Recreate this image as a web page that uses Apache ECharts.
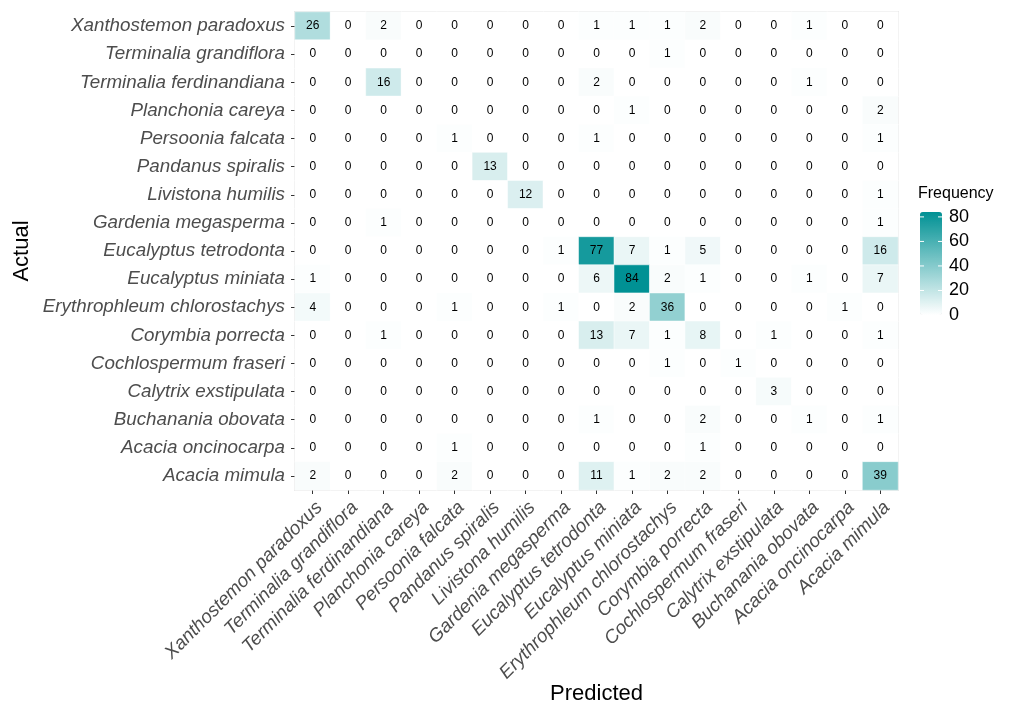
<!DOCTYPE html>
<html>
<head>
<meta charset="utf-8">
<script src="https://cdn.jsdelivr.net/npm/echarts@6/dist/echarts.min.js"></script>
<style>
  html, body { margin: 0; padding: 0; background: #fff; }
  #main { width: 1012px; height: 704px; }
</style>
</head>
<body>
<div id="main"></div>
<script>
// species, same order on both axes (top-to-bottom / left-to-right)
var species = [
  'Xanthostemon paradoxus', 'Terminalia grandiflora', 'Terminalia ferdinandiana',
  'Planchonia careya', 'Persoonia falcata', 'Pandanus spiralis', 'Livistona humilis',
  'Gardenia megasperma', 'Eucalyptus tetrodonta', 'Eucalyptus miniata',
  'Erythrophleum chlorostachys', 'Corymbia porrecta', 'Cochlospermum fraseri',
  'Calytrix exstipulata', 'Buchanania obovata', 'Acacia oncinocarpa', 'Acacia mimula'
];

// confusion counts: one row per actual class, columns = predicted class
var counts = [
  [26, 0, 2, 0, 0, 0, 0, 0, 1, 1, 1, 2, 0, 0, 1, 0, 0],
  [0, 0, 0, 0, 0, 0, 0, 0, 0, 0, 1, 0, 0, 0, 0, 0, 0],
  [0, 0, 16, 0, 0, 0, 0, 0, 2, 0, 0, 0, 0, 0, 1, 0, 0],
  [0, 0, 0, 0, 0, 0, 0, 0, 0, 1, 0, 0, 0, 0, 0, 0, 2],
  [0, 0, 0, 0, 1, 0, 0, 0, 1, 0, 0, 0, 0, 0, 0, 0, 1],
  [0, 0, 0, 0, 0, 13, 0, 0, 0, 0, 0, 0, 0, 0, 0, 0, 0],
  [0, 0, 0, 0, 0, 0, 12, 0, 0, 0, 0, 0, 0, 0, 0, 0, 1],
  [0, 0, 1, 0, 0, 0, 0, 0, 0, 0, 0, 0, 0, 0, 0, 0, 1],
  [0, 0, 0, 0, 0, 0, 0, 1, 77, 7, 1, 5, 0, 0, 0, 0, 16],
  [1, 0, 0, 0, 0, 0, 0, 0, 6, 84, 2, 1, 0, 0, 1, 0, 7],
  [4, 0, 0, 0, 1, 0, 0, 1, 0, 2, 36, 0, 0, 0, 0, 1, 0],
  [0, 0, 1, 0, 0, 0, 0, 0, 13, 7, 1, 8, 0, 1, 0, 0, 1],
  [0, 0, 0, 0, 0, 0, 0, 0, 0, 0, 1, 0, 1, 0, 0, 0, 0],
  [0, 0, 0, 0, 0, 0, 0, 0, 0, 0, 0, 0, 0, 3, 0, 0, 0],
  [0, 0, 0, 0, 0, 0, 0, 0, 1, 0, 0, 2, 0, 0, 1, 0, 1],
  [0, 0, 0, 0, 1, 0, 0, 0, 0, 0, 0, 1, 0, 0, 0, 0, 0],
  [2, 0, 0, 0, 2, 0, 0, 0, 11, 1, 2, 2, 0, 0, 0, 0, 39]
];

var legendTicks = [0, 20, 40, 60, 80];

var heatData = [];
counts.forEach(function (row, i) {
  row.forEach(function (v, j) {
    heatData.push([j, i, v]);
  });
});
var maxVal = Math.max.apply(null, heatData.map(function (d) { return d[2]; }));

// colour bar geometry
var barLeft = 920, barTop = 212, barW = 22, barH = 103;
var legendGraphics = [{
  type: 'text', left: 918, top: 186,
  style: { text: 'Frequency', fontSize: 16, fill: '#000', fontFamily: 'Liberation Sans' }
}];
legendTicks.forEach(function (t) {
  var y = barTop + barH * (1 - t / maxVal);
  legendGraphics.push({
    type: 'text', x: 949, y: y,
    style: { text: String(t), fontSize: 18, fill: '#000', fontFamily: 'Liberation Sans',
             textVerticalAlign: 'middle', verticalAlign: 'middle' },
    z: 100
  });
  legendGraphics.push({
    type: 'line', shape: { x1: barLeft, y1: y, x2: barLeft + 4, y2: y },
    style: { stroke: '#fff', lineWidth: 1 }, z: 100
  });
  legendGraphics.push({
    type: 'line', shape: { x1: barLeft + barW - 4, y1: y, x2: barLeft + barW, y2: y },
    style: { stroke: '#fff', lineWidth: 1 }, z: 100
  });
});

var myChart = echarts.init(document.getElementById('main'));

var option = {
  animation: false,
  backgroundColor: '#fff',
  textStyle: { fontFamily: 'Liberation Sans' },
  grid: {
    left: 295, right: 114, top: 12, bottom: 214,
    show: true, borderColor: '#e6e6e6', borderWidth: 2,
    outerBoundsMode: 'none'
  },
  xAxis: {
    type: 'category',
    data: species,
    name: 'Predicted',
    nameLocation: 'middle',
    nameGap: 193,
    nameMoveOverlap: false,
    nameTextStyle: { fontSize: 22, color: '#000' },
    axisLine: { show: false },
    axisTick: { show: true, length: 4, alignWithLabel: true, lineStyle: { color: '#333' } },
    axisLabel: {
      rotate: 45, interval: 0, margin: 8,
      align: 'right', verticalAlign: 'top',
      fontSize: 18.8, fontStyle: 'italic', color: '#4d4d4d'
    },
    splitLine: { show: false }
  },
  yAxis: {
    type: 'category',
    data: species,
    inverse: true,
    name: 'Actual',
    nameLocation: 'middle',
    nameGap: 262,
    nameMoveOverlap: false,
    nameTextStyle: { fontSize: 22, color: '#000' },
    axisLine: { show: false },
    axisTick: { show: true, length: 4, alignWithLabel: true, lineStyle: { color: '#333' } },
    axisLabel: {
      interval: 0, margin: 10,
      fontSize: 18.8, fontStyle: 'italic', color: '#4d4d4d'
    },
    splitLine: { show: false }
  },
  visualMap: {
    type: 'continuous',
    min: 0,
    max: maxVal,
    orient: 'vertical',
    left: barLeft,
    top: barTop,
    itemWidth: barW,
    itemHeight: barH,
    padding: 0,
    calculable: false,
    hoverLink: false,
    text: ['', ''],
    showLabel: false,
    inRange: { color: ['#ffffff', '#009194'] }
  },
  graphic: legendGraphics,
  series: [{
    type: 'heatmap',
    data: heatData,
    label: {
      show: true,
      fontSize: 12,
      color: '#000',
      formatter: function (p) { return p.value[2]; }
    },
    itemStyle: { borderColor: '#ffffff', borderWidth: 0.5 },
    emphasis: { disabled: true }
  }]
};

myChart.setOption(option);
</script>
</body>
</html>
